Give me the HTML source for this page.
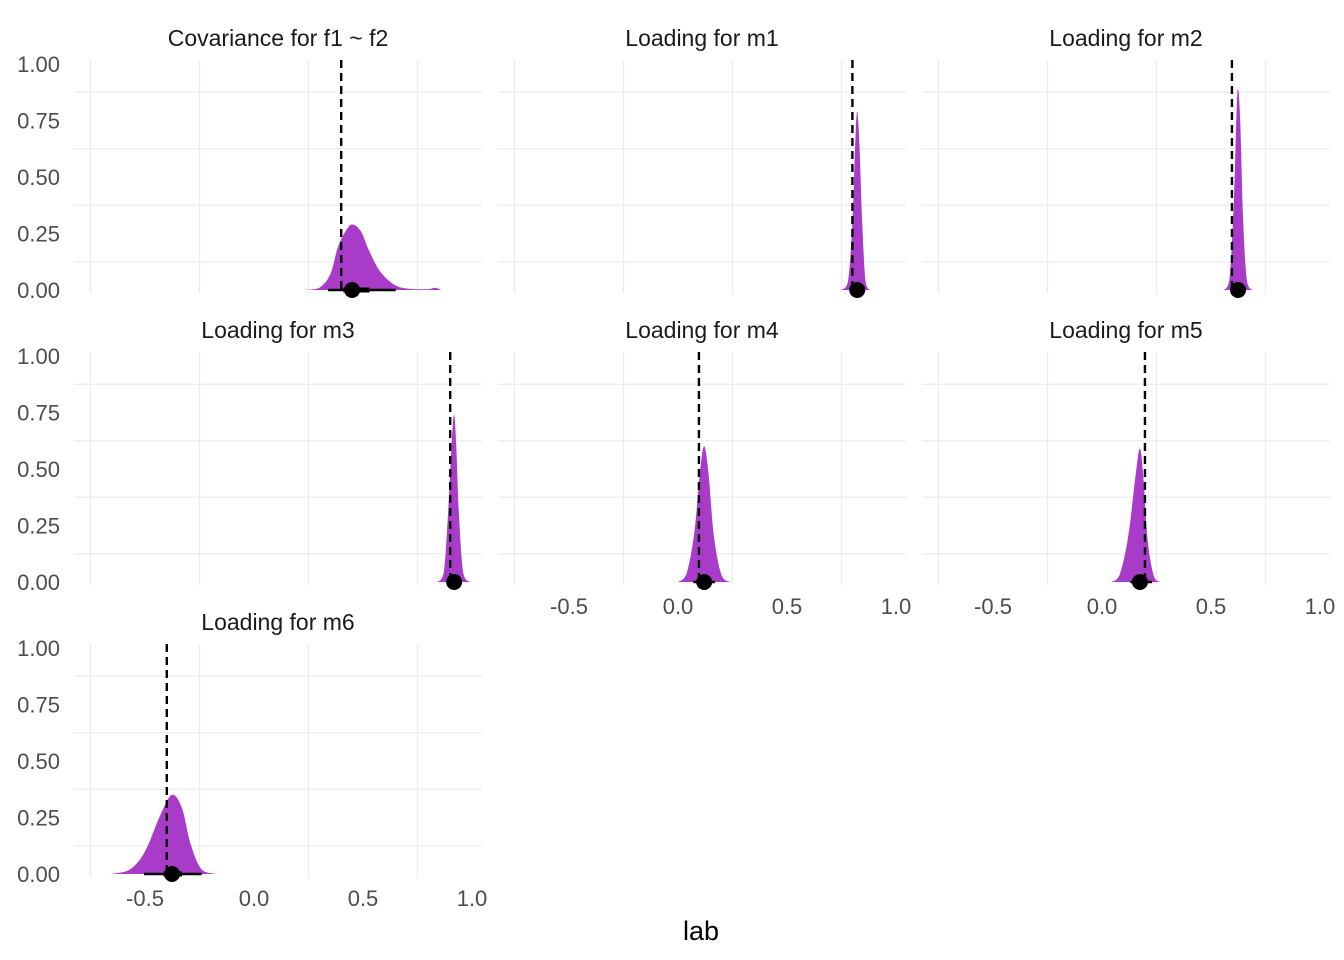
<!DOCTYPE html>
<html><head><meta charset="utf-8"><style>
html,body{margin:0;padding:0;background:#fff;}
svg{display:block;font-family:"Liberation Sans",sans-serif;}
</style></head><body>
<svg id="chart" width="1344" height="960">
<text x="701" y="940" font-size="27" text-anchor="middle" fill="#000">lab</text>
</svg>
<script>
const panelTitles = ["Covariance for f1 ~ f2","Loading for m1","Loading for m2","Loading for m3","Loading for m4","Loading for m5","Loading for m6"];
const trueValues = [0.40, 0.80, 0.596, 0.90, 0.096, 0.197, -0.40];
const densX = [
 [0.23,0.30,0.35,0.385,0.42,0.45,0.49,0.53,0.58,0.65,0.72,0.80,0.83,0.86],
 [0.75,0.78,0.80,0.813,0.822,0.832,0.845,0.86,0.88],
 [0.56,0.585,0.605,0.617,0.624,0.634,0.648,0.665,0.69],
 [0.84,0.87,0.89,0.907,0.918,0.928,0.94,0.96,0.99],
 [0.0,0.04,0.075,0.10,0.12,0.14,0.165,0.20,0.24],
 [0.04,0.08,0.12,0.155,0.174,0.19,0.21,0.24,0.27],
 [-0.66,-0.57,-0.50,-0.43,-0.376,-0.33,-0.29,-0.24,-0.17]
];
const densY = [
 [0,0.01,0.07,0.19,0.26,0.29,0.26,0.17,0.08,0.02,0.005,0.004,0.01,0],
 [0,0.04,0.3,0.65,0.79,0.65,0.3,0.04,0],
 [0,0.05,0.4,0.78,0.89,0.75,0.3,0.04,0],
 [0,0.04,0.3,0.62,0.74,0.6,0.3,0.04,0],
 [0,0.04,0.22,0.48,0.60,0.48,0.2,0.03,0],
 [0,0.03,0.2,0.48,0.59,0.46,0.18,0.02,0],
 [0,0.02,0.1,0.26,0.35,0.29,0.13,0.02,0]
];
const medians = [0.45, 0.822, 0.624, 0.918, 0.12, 0.174, -0.376];
const ciOuter = [[0.34,0.65],[0.79,0.85],[0.595,0.655],[0.89,0.95],[0.07,0.17],[0.13,0.23],[-0.505,-0.24]];
const ciInner = [[0.41,0.53],[0.81,0.835],[0.612,0.637],[0.905,0.93],[0.1,0.145],[0.155,0.2],[-0.415,-0.33]];
const xTicks = [-0.5,0,0.5,1.0];
const xTickLabels = ["-0.5","0.0","0.5","1.0"];
const yTicks = [0,0.25,0.5,0.75,1];
const yTickLabels = ["0.00","0.25","0.50","0.75","1.00"];
const xGrid = [-0.75,-0.25,0.25,0.75];
const yGrid = [0.125,0.375,0.625,0.875];

const svg = document.getElementById('chart');
const NS = "http://www.w3.org/2000/svg";
function mk(tag, attrs, parent){const e=document.createElementNS(NS,tag);for(const k in attrs)e.setAttribute(k,attrs[k]);(parent||svg).appendChild(e);return e;}
const colX0 = [74,498,922], rowY0 = [290,582,874];
for (let i=0;i<panelTitles.length;i++){
  const c=i%3, r=Math.floor(i/3);
  const left=colX0[c], base=rowY0[r];
  const sx=v=>left+180+v*218, sy=v=>base-v*226;
  const g=mk('g',{});
  
  
  xGrid.forEach(v=>{const l=mk('line',{x1:sx(v),x2:sx(v),y1:base-230,y2:base+3,stroke:'#ebebeb','stroke-width':1.2},g);
    });
  yGrid.forEach(v=>{const l=mk('line',{x1:left,x2:left+408,y1:sy(v),y2:sy(v),stroke:'#ebebeb','stroke-width':1.2},g);
    });
  const t=mk('text',{x:left+204,y:base-244,'font-size':'23','text-anchor':'middle',fill:'#1a1a1a'},g);
  t.textContent=panelTitles[i];
  
  if(c===0){yTicks.forEach((v,k)=>{const tt=mk('text',{x:60,y:sy(v)+8,'font-size':'22','text-anchor':'end',fill:'#4d4d4d'},g);
    tt.textContent=yTickLabels[k];});}
  if(r===2||(r===1&&c>0)){xTicks.forEach((v,k)=>{const tt=mk('text',{x:sx(v),y:base+32,'font-size':'22','text-anchor':'middle',fill:'#4d4d4d'},g);
    tt.textContent=xTickLabels[k];});}
  const xs=densX[i], ys=densY[i];
  const pts=xs.map((x,k)=>[sx(x),sy(ys[k])]);
  let d='M'+pts[0][0]+','+base+' L'+pts[0][0]+','+pts[0][1];
  for(let k=0;k<pts.length-1;k++){
    const p0=pts[Math.max(0,k-1)],p1=pts[k],p2=pts[k+1],p3=pts[Math.min(pts.length-1,k+2)];
    let c1y=p1[1]+(p2[1]-p0[1])/6, c2y=p2[1]-(p3[1]-p1[1])/6;
    c1y=Math.min(c1y,base);c2y=Math.min(c2y,base);
    d+=' C'+(p1[0]+(p2[0]-p0[0])/6)+','+c1y+' '+(p2[0]-(p3[0]-p1[0])/6)+','+c2y+' '+p2[0]+','+p2[1];
  }
  d+=' L'+pts[pts.length-1][0]+','+base+' Z';
  const dp=mk('path',{d:d,fill:'#a93bc9'},g);
  
  const lo=mk('line',{x1:sx(ciOuter[i][0]),x2:sx(ciOuter[i][1]),y1:base,y2:base,stroke:'#000','stroke-width':2.5},g);
  
  const li=mk('line',{x1:sx(ciInner[i][0]),x2:sx(ciInner[i][1]),y1:base,y2:base,stroke:'#000','stroke-width':5},g);
  
  const pt=mk('circle',{cx:sx(medians[i]),cy:base,r:8,fill:'#000'},g);
  
  const dl=mk('line',{x1:sx(trueValues[i]),x2:sx(trueValues[i]),y1:base-230,y2:base,stroke:'#000','stroke-width':2.4,'stroke-dasharray':'8,5'},g);
  
}
</script>
</body></html>
